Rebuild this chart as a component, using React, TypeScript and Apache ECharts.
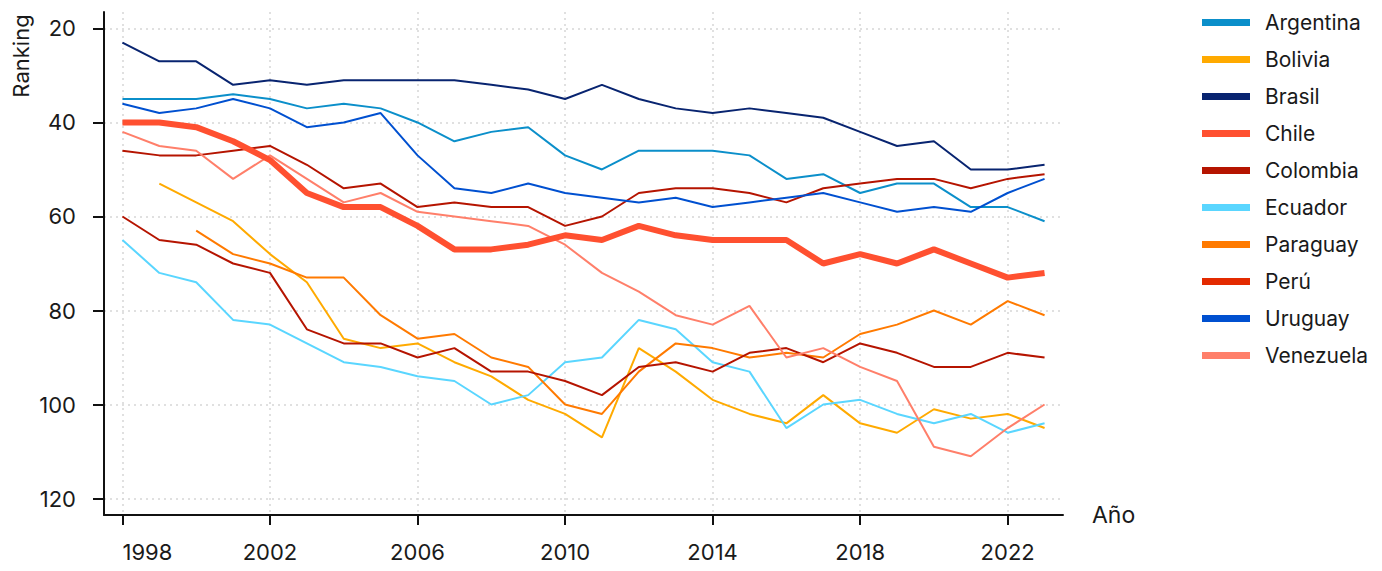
import React, { useEffect, useRef } from "react";
import * as echarts from "echarts";

const years = [1998,1999,2000,2001,2002,2003,2004,2005,2006,2007,2008,2009,2010,2011,2012,2013,2014,2015,2016,2017,2018,2019,2020,2021,2022,2023];
const xTicks = [1998, 2002, 2006, 2010, 2014, 2018, 2022];
const yTicks = [20, 40, 60, 80, 100, 120];

const argentina = [35,35,35,34,35,37,36,37,40,44,42,41,47,50,46,46,46,47,52,51,55,53,53,58,58,61];
const bolivia = [null,53,57,61,68,74,86,88,87,91,94,99,102,107,88,93,99,102,104,98,104,106,101,103,102,105];
const brasil = [23,27,27,32,31,32,31,31,31,31,32,33,35,32,35,37,38,37,38,39,42,45,44,50,50,49];
const chile = [40,40,41,44,48,55,58,58,62,67,67,66,64,65,62,64,65,65,65,70,68,70,67,70,73,72];
const colombia = [46,47,47,46,45,49,54,53,58,57,58,58,62,60,55,54,54,55,57,54,53,52,52,54,52,51];
const ecuador = [65,72,74,82,83,87,91,92,94,95,100,98,91,90,82,84,91,93,105,100,99,102,104,102,106,104];
const paraguay = [null,null,63,68,70,73,73,81,86,85,90,92,100,102,93,87,88,90,89,90,85,83,80,83,78,81];
const peru = [60,65,66,70,72,84,87,87,90,88,93,93,95,98,92,91,93,89,88,91,87,89,92,92,89,90];
const uruguay = [36,38,37,35,37,41,40,38,47,54,55,53,55,56,57,56,58,57,56,55,57,59,58,59,55,52];
const venezuela = [42,45,46,52,47,52,57,55,59,60,61,62,66,72,76,81,83,79,90,88,92,95,109,111,105,100];

const countries = ["Argentina","Bolivia","Brasil","Chile","Colombia","Ecuador","Paraguay","Perú","Uruguay","Venezuela"];
const values = [argentina, bolivia, brasil, chile, colombia, ecuador, paraguay, peru, uruguay, venezuela];
const legendColors = ["#0b8fca","#ffaa00","#082470","#ff5030","#b51400","#5ad6ff","#ff7a00","#e32a00","#0050d0","#ff7f6a"];
const lineColors = ["#0b8fca","#ffaa00","#082470","#ff5030","#b51400","#5ad6ff","#ff7a00","#b51400","#0050d0","#ff7f6a"];

const FONT = "Inter";

export default function App() {
  const ref = useRef<HTMLDivElement>(null);
  useEffect(() => {
    document.body.style.margin = "0";
    if (!ref.current) return;
    const chart = echarts.init(ref.current, null, { renderer: "svg" });
    const series = countries.map((name, i) => ({
      name,
      type: "line",
      showSymbol: false,
      symbol: "none",
      data: years.map((y, j) => [y, values[i][j]]).filter((p) => p[1] !== null),
      itemStyle: { color: legendColors[i] },
      lineStyle: { color: lineColors[i], width: name === "Chile" ? 6 : 2 },
      emphasis: { disabled: true },
      z: name === "Chile" ? 3 : 2,
    }));
    chart.setOption({
      animation: false,
      textStyle: { fontFamily: FONT },
      grid: { left: 104, right: 319, top: 12, bottom: 56, containLabel: false },
      graphic: [
        {
          type: "text",
          x: 21,
          y: 56,
          rotation: Math.PI / 2,
          style: {
            text: "Ranking",
            fontFamily: FONT,
            fontSize: 22,
            fill: "#1a1a1a",
            align: "center",
            verticalAlign: "middle",
          },
        },
      ],
      legend: {
        orient: "vertical",
        left: 1197,
        top: 7,
        itemWidth: 48,
        itemHeight: 7,
        itemGap: 16,
        icon: "rect",
        data: countries,
        textStyle: { fontFamily: FONT, fontSize: 21, color: "#1a1a1a", padding: [0, 0, 0, 10] },
        selectedMode: false,
      },
      xAxis: {
        type: "value",
        min: 1997.5,
        max: 2023.5,
        name: "Año",
        nameLocation: "end",
        nameGap: 29,
        nameTextStyle: { fontFamily: FONT, fontSize: 23, color: "#1a1a1a", align: "left", verticalAlign: "middle" },
        axisLine: { show: true, lineStyle: { color: "#111", width: 2 } },
        axisTick: { show: true, length: 10, lineStyle: { color: "#111", width: 2 }, customValues: xTicks },
        axisLabel: {
          customValues: xTicks,
          margin: 26,
          fontFamily: FONT,
          fontSize: 22,
          color: "#1a1a1a",
          alignMinLabel: "left",
          formatter: (v: number) => String(v),
        },
        splitLine: { show: true, lineStyle: { color: "#d6d6d6", type: [2, 4], width: 1.5 } },
      },
      yAxis: {
        type: "value",
        inverse: true,
        min: 16.5,
        max: 123.5,
        axisLine: { show: true, lineStyle: { color: "#111", width: 2 } },
        axisTick: { show: true, length: 11, lineStyle: { color: "#111", width: 2 }, customValues: yTicks },
        axisLabel: {
          customValues: yTicks,
          margin: 28,
          fontFamily: FONT,
          fontSize: 22,
          color: "#1a1a1a",
        },
        splitLine: { show: true, lineStyle: { color: "#d6d6d6", type: [2, 4], width: 1.5 } },
      },
      series,
    });
    return () => chart.dispose();
  }, []);
  return <div ref={ref} style={{ width: 1382, height: 571 }} />;
}
